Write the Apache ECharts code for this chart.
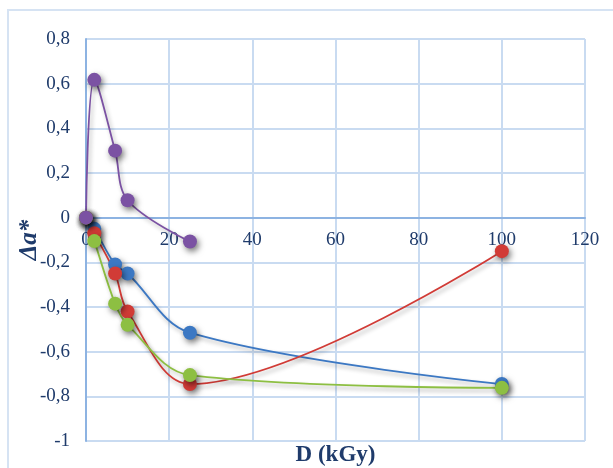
<!DOCTYPE html>
<html><head><meta charset="utf-8">
<script src="https://cdn.jsdelivr.net/npm/echarts@6/dist/echarts.min.js"></script>
<style>html,body{margin:0;padding:0;background:#fff}#c{width:613px;height:468px}</style>
</head><body><div id="c"></div>
<script>
var doses = [0, 2, 7, 10, 25, 100];
var blueVals = [0, -0.05, -0.21, -0.25, -0.515, -0.745];
var redVals = [0, -0.07, -0.25, -0.42, -0.745, -0.15];
var greenVals = [0, -0.105, -0.385, -0.48, -0.705, -0.762];
var purpleDoses = [0, 2, 7, 10, 25];
var purpleVals = [0, 0.617, 0.30, 0.078, -0.107];
var xTicks = {min: 0, max: 120, interval: 20};
var yTicks = {min: -1, max: 0.8, interval: 0.2};

function pairs(xs, ys){ return xs.map(function(x,i){return [x, ys[i]];}); }
var txt = '#1F3B6B';
var font = '"Liberation Serif","Times New Roman",serif';
function mk(name, color, xs, ys){
  return {
    name: name, type: 'line', smooth: 0.35, data: pairs(xs, ys),
    symbol: 'circle', symbolSize: 14,
    lineStyle: {color: color, width: 1.8, shadowColor: 'rgba(0,0,0,0.3)', shadowBlur: 4, shadowOffsetX: 2, shadowOffsetY: 3},
    itemStyle: {color: color, shadowColor: 'rgba(0,0,0,0.55)', shadowBlur: 6, shadowOffsetX: 2, shadowOffsetY: 3},
    emphasis: {disabled: true}
  };
}
function fmt(v){ var r = Math.round(v*10)/10; return String(r).replace('.', ','); }
var chart = echarts.init(document.getElementById('c'));
chart.setOption({
  animation: false,
  graphic: [{type: 'rect', shape: {x: 8, y: 10, width: 640, height: 500}, style: {fill: 'none', stroke: '#D6E3F3', lineWidth: 2}, z: -1}],
  grid: {left: 86, right: 28, top: 39, bottom: 27, outerBoundsMode: 'none', containLabel: false},
  xAxis: [{
    type: 'value', min: xTicks.min, max: xTicks.max, interval: xTicks.interval,
    name: 'D (kGy)', nameLocation: 'middle', nameGap: 14, nameMoveOverlap: false,
    nameTextStyle: {fontFamily: font, fontWeight: 'bold', fontSize: 23, color: txt, verticalAlign: 'middle'},
    axisLine: {show: false, onZero: false},
    axisTick: {show: false},
    axisLabel: {show: false},
    splitLine: {show: true, lineStyle: {color: '#C9DBF1', width: 2}}
  }, {
    type: 'value', min: xTicks.min, max: xTicks.max, interval: xTicks.interval,
    position: 'bottom', offset: 0,
    axisLine: {show: true, onZero: false, lineStyle: {color: '#8DB3E2', width: 2}},
    axisTick: {show: false},
    axisLabel: {fontFamily: font, fontSize: 19, color: txt, margin: 13, formatter: fmt},
    splitLine: {show: false}
  }],
  yAxis: {
    type: 'value', min: yTicks.min, max: yTicks.max, interval: yTicks.interval,
    name: 'Δa*', nameLocation: 'middle', nameGap: 44, nameRotate: 90, nameMoveOverlap: false,
    nameTextStyle: {fontFamily: font, fontWeight: 'bold', fontStyle: 'italic', fontSize: 25, color: txt},
    axisLine: {show: true, onZero: false, lineStyle: {color: '#8DB3E2', width: 2}},
    axisTick: {show: false},
    axisLabel: {fontFamily: font, fontSize: 19, color: txt, margin: 16, formatter: fmt},
    splitLine: {show: true, lineStyle: {color: '#C9DBF1', width: 2}}
  },
  series: [
    mk('blue', '#3C78C3', doses, blueVals),
    mk('red', '#D13B36', doses, redVals),
    mk('green', '#8DBF42', doses, greenVals),
    mk('purple', '#7B52A3', purpleDoses, purpleVals)
  ]
});
var yZero = chart.convertToPixel({yAxisIndex: 0}, 0);
var yBottom = chart.convertToPixel({yAxisIndex: 0}, yTicks.min);
chart.setOption({xAxis: [{}, {offset: -(yBottom - yZero)}]});
</script></body></html>
